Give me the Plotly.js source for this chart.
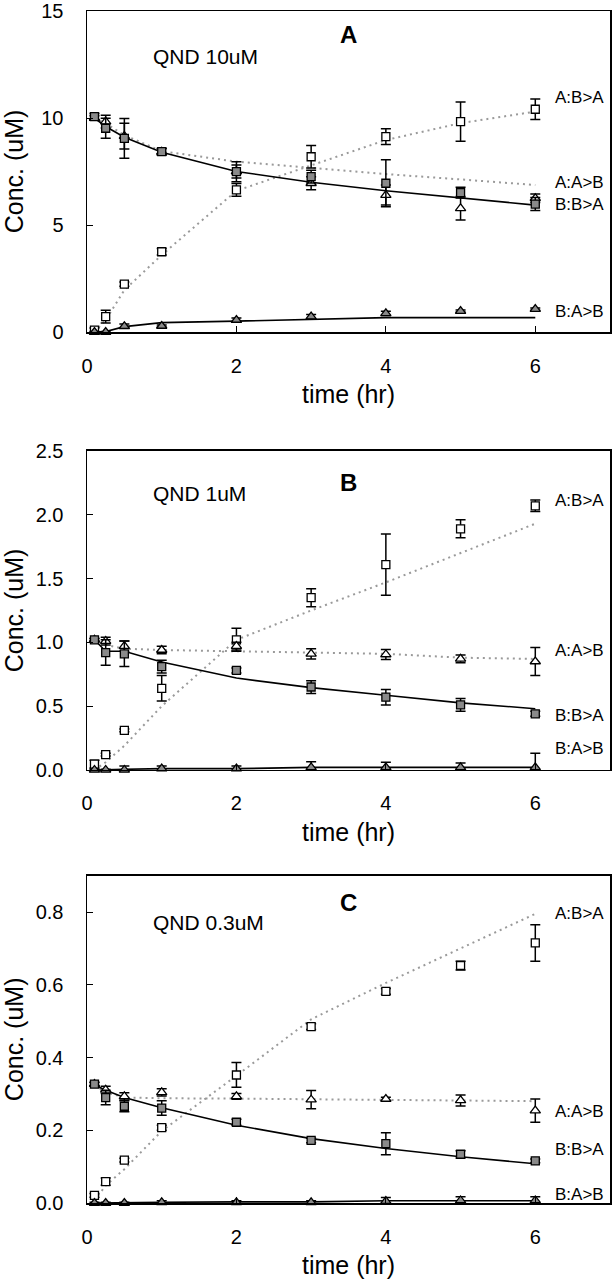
<!DOCTYPE html>
<html>
<head>
<meta charset="utf-8">
<script src="https://cdn.plot.ly/plotly-3.0.1.min.js"></script>
<style>body{margin:0;background:#fff}#chart{width:614px;height:1280px}</style>
</head>
<body>
<div id="chart"></div>
<script>
// time points (hr)
const time = [0.1, 0.25, 0.5, 1, 2, 3, 4, 5, 6];
const seriesLabels = ['A:B>A', 'A:A>B', 'B:B>A', 'B:A>B'];
const panelLetters = ['A', 'B', 'C'];
const panelTexts = ['QND 10uM', 'QND 1uM', 'QND 0.3uM'];

// Panel A (QND 10uM)
const a_ABA = [0.09, 0.72, 2.24, 3.75, 6.64, 8.19, 9.13, 9.83, 10.41];
const a_ABA_err = [0.1, 0.3, 0.1, 0.15, 0.3, 0.53, 0.37, 0.92, 0.48];
const a_AAB = [10.0, 9.83, 9.15, 8.42, 7.5, 6.95, 6.4, 5.78, 6.25];
const a_AAB_err = [0.1, 0.3, 0.6, 0.15, 0.3, 0.3, 0.47, 0.55, 0.2];
const a_BBA = [10.06, 9.52, 9.05, 8.43, 7.49, 7.26, 6.95, 6.51, 5.98];
const a_BBA_err = [0.15, 0.47, 0.93, 0.15, 0.47, 0.3, 1.1, 0.25, 0.3];
const a_BAB = [0.0, 0.0, 0.27, 0.28, 0.56, 0.72, 0.87, 0.98, 1.07];
const a_BAB_err = [0.02, 0.02, 0.1, 0.05, 0.1, 0.1, 0.1, 0.05, 0.05];
const a_fit_ABA = [0.0, 0.56, 1.96, 3.6, 6.6, 7.8, 8.97, 9.76, 10.3];
const a_fit_AAB = [10.0, 9.75, 9.2, 8.45, 7.96, 7.66, 7.38, 7.13, 6.87];
const a_fit_BBA = [10.0, 9.6, 9.1, 8.4, 7.5, 7.0, 6.6, 6.25, 5.93];
const a_fit_BAB = [0.0, 0.02, 0.25, 0.44, 0.51, 0.59, 0.67, 0.67, 0.67];
const a_labelY = [10.95, 6.98, 5.98, 0.95];

// Panel B (QND 1uM)
const b_ABA = [0.046, 0.12, 0.31, 0.64, 1.02, 1.35, 1.61, 1.89, 2.07];
const b_ABA_err = [0.03, 0.01, 0.01, 0.1, 0.09, 0.07, 0.24, 0.07, 0.045];
const b_AAB = [1.02, 1.01, 0.97, 0.94, 0.97, 0.91, 0.905, 0.87, 0.85];
const b_AAB_err = [0.01, 0.03, 0.04, 0.03, 0.03, 0.04, 0.04, 0.03, 0.11];
const b_BBA = [1.02, 0.92, 0.91, 0.81, 0.78, 0.65, 0.57, 0.51, 0.44];
const b_BBA_err = [0.01, 0.1, 0.1, 0.05, 0.02, 0.05, 0.06, 0.05, 0.02];
const b_BAB = [0.0, 0.0, 0.0, 0.01, 0.01, 0.02, 0.02, 0.02, 0.02];
const b_BAB_err = [0.005, 0.005, 0.03, 0.02, 0.02, 0.045, 0.04, 0.035, 0.11];
const b_fit_ABA = [0.0, 0.06, 0.19, 0.5, 1.02, 1.25, 1.47, 1.70, 1.93];
const b_fit_AAB = [1.02, 0.98, 0.95, 0.94, 0.93, 0.92, 0.91, 0.88, 0.87];
const b_fit_BBA = [1.02, 0.93, 0.93, 0.846, 0.72, 0.645, 0.585, 0.526, 0.48];
const b_fit_BAB = [0.0, 0.0, 0.005, 0.01, 0.01, 0.02, 0.02, 0.02, 0.02];
const b_labelY = [2.11, 0.936, 0.43, 0.165];

// Panel C (QND 0.3uM)
const c_ABA = [0.021, 0.059, 0.118, 0.207, 0.352, 0.485, 0.582, 0.653, 0.715];
const c_ABA_err = [0.005, 0.01, 0.005, 0.007, 0.034, 0.008, 0.008, 0.012, 0.05];
const c_AAB = [0.327, 0.311, 0.293, 0.304, 0.293, 0.284, 0.286, 0.282, 0.254];
const c_AAB_err = [0.005, 0.01, 0.01, 0.01, 0.008, 0.025, 0.005, 0.015, 0.032];
const c_BBA = [0.327, 0.29, 0.266, 0.261, 0.222, 0.172, 0.163, 0.134, 0.116];
const c_BBA_err = [0.004, 0.02, 0.015, 0.02, 0.008, 0.006, 0.03, 0.01, 0.005];
const c_BAB = [0.0, 0.0, 0.0, 0.002, 0.002, 0.002, 0.005, 0.007, 0.007];
const c_BAB_err = [0.002, 0.002, 0.002, 0.004, 0.004, 0.004, 0.01, 0.01, 0.01];
const c_fit_ABA = [0.007, 0.048, 0.093, 0.198, 0.35, 0.505, 0.605, 0.70, 0.795];
const c_fit_AAB = [0.325, 0.305, 0.29, 0.288, 0.287, 0.285, 0.283, 0.281, 0.28];
const c_fit_BBA = [0.325, 0.31, 0.29, 0.262, 0.214, 0.177, 0.15, 0.127, 0.108];
const c_fit_BAB = [0.0, 0.0, 0.0, 0.002, 0.003, 0.003, 0.006, 0.006, 0.006];
const c_labelY = [0.795, 0.252, 0.148, 0.024];

// axis settings
const yRanges = [[0, 15], [0, 2.5], [0, 0.9]];
const yTicks = [[0, 5, 10, 15], [0, 0.5, 1.0, 1.5, 2.0, 2.5], [0, 0.2, 0.4, 0.6, 0.8]];
const yFormats = ['', '.1f', '.1f'];
const letterY = [13.9, 2.25, 0.825];
const textY = [12.86, 2.17, 0.77];

const FONT = 'Liberation Sans, Arial, Helvetica, sans-serif';
const GRAY_FILL = '#8a8a8a';
const DOT_COLOR = '#9a9a9a';

const panels = [
  {fits: [a_fit_ABA, a_fit_AAB, a_fit_BBA, a_fit_BAB], data: [a_ABA, a_AAB, a_BBA, a_BAB], errs: [a_ABA_err, a_AAB_err, a_BBA_err, a_BAB_err], labY: a_labelY},
  {fits: [b_fit_ABA, b_fit_AAB, b_fit_BBA, b_fit_BAB], data: [b_ABA, b_AAB, b_BBA, b_BAB], errs: [b_ABA_err, b_AAB_err, b_BBA_err, b_BAB_err], labY: b_labelY},
  {fits: [c_fit_ABA, c_fit_AAB, c_fit_BBA, c_fit_BAB], data: [c_ABA, c_AAB, c_BBA, c_BAB], errs: [c_ABA_err, c_AAB_err, c_BBA_err, c_BAB_err], labY: c_labelY}
];

// series styles: [A:B>A, A:A>B, B:B>A, B:A>B]
const lineStyles = [
  {color: DOT_COLOR, width: 2, dash: '2px,4px'},
  {color: DOT_COLOR, width: 2, dash: '2px,4px'},
  {color: '#000', width: 1.6, dash: 'solid'},
  {color: '#000', width: 1.6, dash: 'solid'}
];
const markerStyles = [
  {symbol: 'square', color: '#fff', size: 8},
  {symbol: 'triangle-up', color: '#fff', size: 9},
  {symbol: 'square', color: GRAY_FILL, size: 8},
  {symbol: 'triangle-up', color: GRAY_FILL, size: 9}
];

const traces = [];
const annotations = [];
const domains = [[0.7307, 1.0], [0.3633, 0.6309], [0.0, 0.2746]];
const layout = {
  width: 614, height: 1280,
  margin: {l: 87, r: 4, t: 11, b: 77},
  paper_bgcolor: '#fff', plot_bgcolor: '#fff',
  showlegend: false,
  font: {family: FONT, color: '#000'}
};

panels.forEach((p, i) => {
  const xa = i === 0 ? 'x' : 'x' + (i + 1);
  const ya = i === 0 ? 'y' : 'y' + (i + 1);
  const xKey = i === 0 ? 'xaxis' : 'xaxis' + (i + 1);
  const yKey = i === 0 ? 'yaxis' : 'yaxis' + (i + 1);
  // fit lines
  p.fits.forEach((f, s) => {
    traces.push({x: time, y: f, xaxis: xa, yaxis: ya, type: 'scatter', mode: 'lines',
      line: lineStyles[s], hoverinfo: 'skip', cliponaxis: true});
  });
  // data with error bars
  p.data.forEach((d, s) => {
    traces.push({x: time, y: d, xaxis: xa, yaxis: ya, type: 'scatter', mode: 'markers',
      cliponaxis: false,
      marker: {symbol: markerStyles[s].symbol, size: markerStyles[s].size, color: markerStyles[s].color,
        line: {color: '#000', width: 1.3}},
      error_y: {type: 'data', array: p.errs[s], visible: true, color: '#000', thickness: 1.5, width: 5}});
  });
  layout[xKey] = {
    domain: [0, 1], anchor: ya, range: [0, 7], tickvals: [0, 2, 4, 6],
    ticks: 'inside', ticklen: 6, tickcolor: '#000', tickwidth: 1,
    showline: true, mirror: true, linecolor: '#000', linewidth: 1.5,
    showgrid: false, zeroline: false,
    tickfont: {size: 20, color: '#000', family: FONT},
    ticklabelstandoff: 15,
    title: {text: 'time (hr)', font: {size: 25, color: '#000', family: FONT}, standoff: 10}
  };
  layout[yKey] = {
    domain: domains[i], anchor: xa, range: yRanges[i], tickvals: yTicks[i], tickformat: yFormats[i],
    ticks: 'inside', ticklen: 6, tickcolor: '#000', tickwidth: 1,
    showline: true, mirror: true, linecolor: '#000', linewidth: 1.5,
    showgrid: false, zeroline: false,
    tickfont: {size: 20, color: '#000', family: FONT},
    ticklabelstandoff: 18,
    title: {text: 'Conc. (uM)', font: {size: 25, color: '#000', family: FONT}, standoff: i === 0 ? 18 : 11}
  };
  // series labels
  seriesLabels.forEach((lab, s) => {
    annotations.push({x: 6.24, y: p.labY[s], xref: xa, yref: ya, text: lab, showarrow: false,
      xanchor: 'left', yanchor: 'middle', font: {size: 17, color: '#000', family: FONT}});
  });
  annotations.push({x: 3.5, y: letterY[i], xref: xa, yref: ya, text: '<b>' + panelLetters[i] + '</b>',
    showarrow: false, xanchor: 'center', yanchor: 'middle', font: {size: 24, color: '#000', family: FONT}});
  annotations.push({x: 0.86, y: textY[i], xref: xa, yref: ya, text: panelTexts[i],
    showarrow: false, xanchor: 'left', yanchor: 'middle', font: {size: 21, color: '#000', family: FONT}});
});
layout.annotations = annotations;

Plotly.newPlot('chart', traces, layout, {staticPlot: true, displayModeBar: false});
</script>
</body>
</html>
